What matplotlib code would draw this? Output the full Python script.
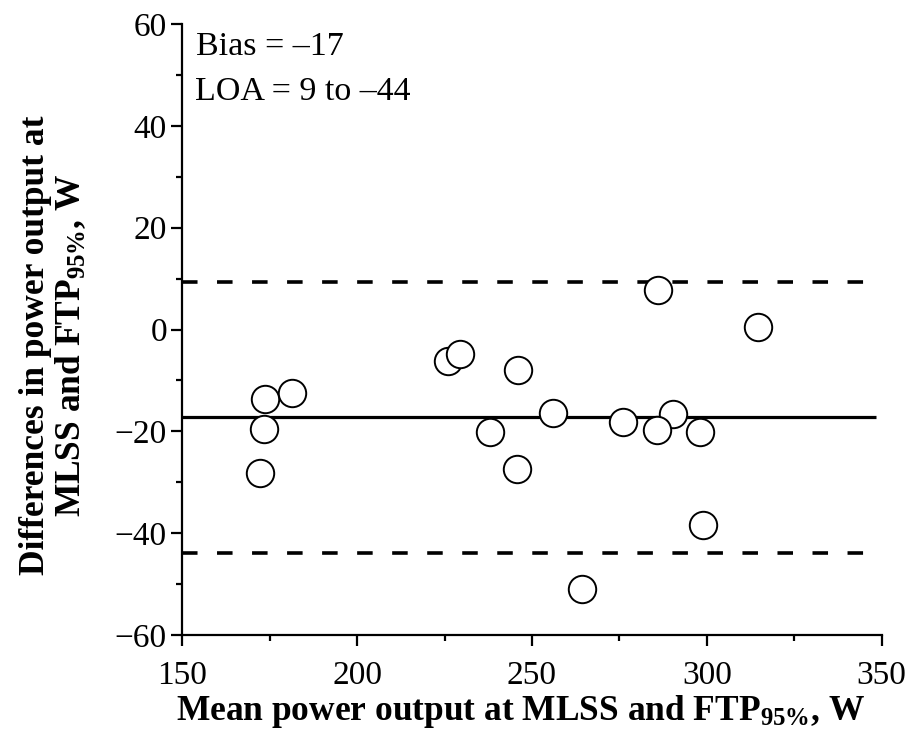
import matplotlib
matplotlib.use("Agg")
import matplotlib.pyplot as plt
from matplotlib.ticker import MultipleLocator

plt.rcParams['font.family'] = ['Liberation Serif', 'DejaVu Serif']
plt.rcParams['mathtext.fontset'] = 'custom'
plt.rcParams['mathtext.rm'] = 'Liberation Serif'
plt.rcParams['mathtext.bf'] = 'Liberation Serif:bold'
plt.rcParams['mathtext.it'] = 'Liberation Serif:italic'

# Mean of the two methods (x) and their difference (y), W
mean_power = [173.6, 181.3, 173.4, 172.2, 226.1, 229.4, 245.9, 238.0, 245.6,
              286.1, 314.7, 256.1, 275.9, 290.2, 285.7, 298.0, 299.0, 264.4]
diff_power = [-13.6, -12.4, -19.5, -28.2, -6.2, -4.9, -8.0, -20.1, -27.4,
              7.8, 0.4, -16.3, -18.2, -16.5, -19.7, -20.1, -38.4, -51.0]

bias = -17.2
loa_upper = 9.4
loa_lower = -43.8

x_ticks = [150, 200, 250, 300, 350]
y_ticks = [-60, -40, -20, 0, 20, 40, 60]

fig = plt.figure(figsize=(9.10, 7.41), dpi=100)
ax = fig.add_axes([0.2003, 0.1430, 0.7686, 0.8246])

ax.hlines(bias, 150, 348.5, colors='black', linewidth=2.3, zorder=1)
for lv in (loa_upper, loa_lower):
    ax.hlines(lv, 150, 348.5, colors='black', linewidth=2.6,
              linestyles=(0, (4.3, 5.4)), zorder=1)

ax.scatter(mean_power, diff_power, s=390, facecolors='white',
           edgecolors='black', linewidths=1.4, zorder=3, clip_on=False)

ax.set_xlim(150, 350)
ax.set_ylim(-60, 60)
ax.set_xticks(x_ticks)
ax.set_yticks(y_ticks)
ax.xaxis.set_minor_locator(MultipleLocator(25))
ax.yaxis.set_minor_locator(MultipleLocator(10))

for side in ('top', 'right'):
    ax.spines[side].set_visible(False)
for side in ('left', 'bottom'):
    ax.spines[side].set_linewidth(1.6)

ax.tick_params(which='major', direction='out', length=8.0, width=1.6,
               labelsize=24)
ax.tick_params(axis='x', which='major', pad=10)
ax.tick_params(axis='y', which='major', pad=3)
ax.tick_params(which='minor', direction='out', length=4.5, width=1.6)

# axis titles placed as figure text
fig.text(520 / 910, 1 - 711 / 741,
         'Mean power output at MLSS and FTP$_{\\mathbf{95\\%}}$, W',
         fontsize=25.5, fontweight='bold', ha='center', va='center')
fig.text(54 / 910, 1 - 345 / 741,
         'Differences in power output at\nMLSS and FTP$_{\\mathbf{95\\%}}$, W',
         fontsize=25.5, fontweight='bold', ha='center', va='center',
         rotation=90, linespacing=1.05, multialignment='center')

ax.text(153.9, 53.9, f'Bias = \u2013{abs(bias):.0f}', fontsize=24.5,
        va='baseline')
ax.text(153.6, 45.1, f'LOA = {loa_upper:.0f} to \u2013{abs(loa_lower):.0f}',
        fontsize=24.5, va='baseline')

fig.savefig('out.png', dpi=100, facecolor='white')
